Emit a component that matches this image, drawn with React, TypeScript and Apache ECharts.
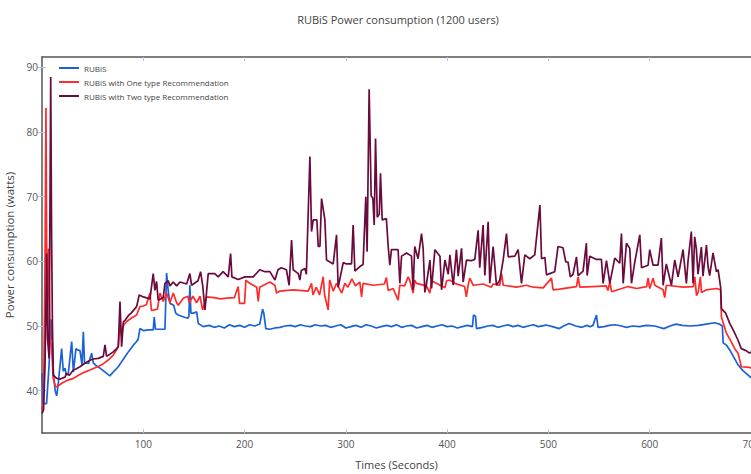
import React, { useEffect, useRef } from "react";
import * as echarts from "echarts";

const chartTitle = "RUBiS Power consumption (1200 users)";
const seriesNames = ["RUBiS", "RUBiS with One type Recommendation", "RUBiS with Two type Recommendation"];
const xTickValues = [100, 200, 300, 400, 500, 600, 700];
const yTickValues = [40, 50, 60, 70, 80, 90];

// RUBiS (blue)
const tBlue = [0, 1, 4.5, 7, 9, 10.5, 11.2, 13, 14.5, 16, 19.4, 21, 22.7, 24, 26, 29.3, 31, 33.5, 35, 37.5, 39.5, 40.8, 42, 46, 49, 50.6, 54, 57.2, 62, 67, 71, 75.3, 80, 85.2, 90, 93.4, 95, 96.7, 100, 105, 109.8, 110.8, 112, 121.4, 123, 124.5, 126.3, 130, 132, 134.5, 140, 144, 145, 146, 147, 150, 152.7, 154.3, 159.2, 165, 170, 175, 180, 185, 190, 195, 200, 205, 210, 215, 217.8, 219, 221, 225, 230, 235, 240, 245, 250, 255, 260, 265, 270, 275, 280, 285, 290, 295, 300, 305, 310, 315, 320, 325, 330, 335, 340, 345, 350, 355, 360, 365, 370, 375, 380, 385, 390, 395, 400, 405, 410, 415, 420, 425, 426, 428, 429, 435, 440, 445, 450, 455, 460, 465, 470, 475, 480, 485, 490, 497.6, 504, 510.7, 515, 520.5, 527, 533, 538, 541, 544, 547.4, 549, 555, 560, 566, 572, 577, 583, 590, 597, 605, 614, 620, 626, 632, 640, 648, 656, 664, 669, 671.7, 672.5, 676, 679, 683, 687.2, 692, 698.6, 700];
const vBlue = [42.7, 38, 38, 44, 51, 46, 42.7, 40, 39.2, 41, 46.5, 43, 43.5, 42.5, 42.7, 47.6, 42.9, 46.5, 46.3, 46.2, 44, 49.1, 44.3, 44.2, 45.8, 44.3, 43.8, 43.5, 42.9, 42.3, 43, 43.7, 44.8, 46, 47, 47.6, 48, 49.6, 49.3, 49.4, 49.4, 51.4, 49.5, 49.5, 58.2, 55.6, 53.5, 53.2, 52, 51.7, 51.4, 51.2, 51.5, 56.3, 52, 52, 52.2, 50.4, 49.9, 50.1, 49.8, 50, 49.7, 50.2, 49.9, 50.1, 49.8, 50.2, 50, 50.3, 52.6, 52, 49.6, 49.5, 49.7, 49.8, 50, 50.1, 49.9, 50.2, 50, 49.9, 50.2, 50, 50.1, 49.8, 50, 50.2, 49.7, 49.9, 50.1, 49.8, 50.2, 50, 49.7, 49.9, 50.1, 49.9, 50.2, 49.8, 50, 50.1, 49.7, 49.9, 50.1, 49.8, 50, 50.2, 49.9, 50, 49.7, 49.9, 50.1, 49.9, 51.7, 51.5, 49.6, 49.8, 50, 50.1, 49.8, 50, 50.2, 49.9, 50.1, 49.8, 50, 50.2, 49.9, 50.15, 49.9, 49.6, 50, 50.4, 50, 49.8, 50.1, 49.9, 50.1, 51.7, 49.8, 49.9, 50.1, 50.2, 50, 49.8, 50, 49.9, 50.1, 50, 49.6, 50, 50.3, 50.1, 50, 50.1, 50.3, 50.5, 50.3, 50, 47.4, 47, 46.3, 45.2, 44, 43.1, 42.2, 42];

// RUBiS with One type Recommendation (red)
const tRed = [0, 1.5, 3, 3.9, 5, 6.5, 8, 9.5, 11, 13, 14.5, 20, 25, 31, 36, 41, 47.4, 53, 59, 65, 70.4, 75.3, 77, 78.5, 80, 83.6, 88, 93.4, 96.7, 100, 103, 106.6, 108, 114, 116.4, 119.7, 123, 126.3, 129.6, 132.9, 134.5, 139.5, 144, 145.5, 149, 152.7, 156, 158.6, 162.5, 170, 176, 182.3, 190, 193.7, 195, 200, 201.3, 205, 212, 213.5, 215, 225, 230, 231.6, 235, 248, 262.8, 266.1, 267.5, 270.8, 274, 277.6, 279, 282.5, 284, 287.5, 290.8, 296, 299, 302, 306, 309.5, 313.8, 315.5, 317, 327, 338, 340, 341.8, 346.7, 351.6, 353.3, 358, 361.5, 363, 366.4, 368, 369.7, 379.6, 382.9, 384.6, 397.8, 399.5, 402.6, 407.5, 417.3, 419, 420.7, 422.4, 425.7, 435.5, 443.7, 445.4, 451.9, 453.7, 455.4, 468.5, 478.4, 485, 494.8, 503, 504.6, 511, 527.7, 529.3, 531, 544, 557, 558.7, 560.7, 562.3, 578.7, 587, 597, 598.4, 600, 603.3, 605, 613.2, 614.8, 616.4, 633, 643, 644.5, 646.2, 647.8, 650, 651.1, 656, 666, 670, 670.8, 675.7, 680, 684, 687.2, 688.8, 690.4, 698.6, 700];
const vRed = [37, 38, 60, 83.7, 50, 62, 48, 46.8, 42, 40.8, 40.6, 41.2, 41.6, 41.9, 42.4, 42.8, 43.2, 43.6, 44, 44.7, 45.5, 46.8, 50.4, 48.5, 50, 50.7, 51.2, 51.7, 53, 53.1, 53.3, 55.1, 52.4, 52.6, 55.1, 53.8, 55.1, 53.6, 55.1, 53.6, 53.2, 54.3, 54.6, 53.6, 54.6, 53.6, 54.6, 52.5, 54.5, 54.4, 54.2, 54.3, 54.4, 56.1, 53.5, 53.5, 57.1, 56.6, 56, 53.8, 56, 56.8, 56.3, 55.1, 55.4, 55.6, 55.4, 56.6, 54.8, 56, 54.8, 57.6, 54.8, 52.5, 57.1, 55.4, 56.6, 55.1, 56.6, 56, 57.3, 56.2, 56.8, 54.5, 56.6, 56.3, 56.5, 57.5, 55.5, 55.8, 54, 56.3, 56.2, 57.6, 57.1, 55.1, 57.1, 56.6, 56.2, 55.1, 57, 55.9, 57, 57.1, 56.6, 56.1, 54.5, 56.3, 57.4, 56.3, 56.5, 56, 56.5, 56.3, 58.1, 56.3, 56, 56.3, 56, 55.9, 57.4, 55.6, 55.7, 56.1, 57.6, 56, 56.1, 56.2, 55.5, 56.8, 55.3, 56.1, 55.8, 56.1, 57.4, 55.8, 57.4, 56.3, 55.6, 54.4, 56.3, 56, 56.1, 57.6, 54.7, 55.2, 57.6, 55.2, 55.6, 55.8, 55.6, 51.4, 48.9, 47.7, 46.5, 45.8, 44.8, 43.7, 43.6, 43.5];

// RUBiS with Two type Recommendation (maroon)
const tMaroon = [0, 1.5, 3, 4.6, 5.5, 7, 8.6, 9.5, 10.3, 11.2, 14.5, 18, 22.7, 24, 27, 31, 34, 37.5, 42, 47.4, 50.6, 55.6, 60.5, 62.2, 63.8, 70.4, 73.7, 75.3, 77, 78.6, 80.3, 82, 85.2, 88, 93.4, 96, 100, 106.6, 109.8, 111.5, 113.1, 114.7, 119.7, 121.4, 124.7, 126.3, 129.6, 132.9, 136.2, 142.8, 146, 147.7, 154, 156.6, 158.6, 160.9, 164.1, 170.6, 173.9, 178.8, 183.9, 186.2, 187.5, 193.7, 200.3, 208.6, 215, 220, 225, 230, 233, 236.3, 241.3, 244, 246.4, 248, 253, 254.6, 256, 259.6, 261, 264.5, 266.1, 267.8, 271.4, 272.7, 274.4, 276, 279.3, 280.9, 287.5, 290.8, 292.4, 297.4, 300.7, 305.6, 307.2, 308.9, 313.8, 317, 319.7, 321, 323, 325, 326.6, 328, 329.3, 331, 333, 334.2, 335.9, 340, 341.8, 343.4, 345, 351.6, 353.3, 355, 359.9, 364.8, 366.4, 368, 371.3, 374.7, 376.3, 378, 379.6, 383, 384.6, 387.9, 392.9, 394.5, 397.8, 401.1, 402.7, 406, 409.2, 410.9, 414.2, 415.8, 419.1, 424, 427.3, 430.6, 432.2, 435.5, 437.2, 440.5, 442.1, 445.4, 448.7, 452, 455.3, 458.6, 460.3, 466.8, 470.1, 473.4, 476.7, 481.6, 486.5, 491.6, 493.2, 496.5, 498.1, 501.3, 506.2, 509.5, 514.4, 517.1, 519.3, 521.6, 524.3, 527.7, 529.3, 534.2, 537.5, 538.2, 540.8, 547.4, 552.3, 554, 557.3, 560.6, 565.5, 570.4, 572.1, 573.8, 577, 580.3, 582, 585.3, 590.2, 591.9, 598.4, 600, 603.3, 608.2, 611.5, 613.2, 616.4, 621.4, 624.7, 628, 632.9, 636.2, 637.8, 641.1, 642.8, 644.4, 646, 647.7, 651, 652.6, 656, 657.6, 659.2, 662.5, 665.8, 667.5, 670, 670.8, 675, 679, 683, 687.2, 690.4, 695, 698.6, 700];
const vMaroon = [36.5, 37, 44, 61.2, 48, 45, 88.5, 63.6, 50, 42.4, 41.9, 41.8, 42.1, 42.6, 42.4, 43.2, 43.4, 43.7, 44.2, 44.7, 44.9, 45, 45.3, 47.1, 45.3, 46, 46.5, 46.8, 53.8, 46.8, 50.6, 50.9, 51.6, 52, 53, 54.8, 54.5, 54.2, 58.1, 55.5, 56.9, 54, 54.4, 56.6, 57, 56.2, 56.8, 56.2, 56.8, 56.5, 58.1, 56.3, 57, 58.4, 56.3, 52.5, 58.1, 58.1, 57.6, 58.4, 57.6, 61.2, 57.6, 57.2, 57.6, 57.6, 58.7, 58.4, 58.4, 57.1, 58.7, 59, 58.7, 56.3, 63.3, 58.7, 58.1, 57.1, 58.6, 58.9, 58, 76.2, 64.6, 66.4, 66.4, 62.3, 62.3, 69.7, 66.4, 60.2, 59.6, 64.1, 56, 59.8, 59.6, 59.6, 65.6, 58.5, 59.2, 59.5, 70, 61.5, 86.6, 70.1, 69.8, 65.6, 79, 66.8, 67.3, 73.6, 66.4, 66.6, 62.3, 59.4, 61.8, 61.8, 56.6, 60.8, 61.3, 60.8, 55.6, 62.3, 60.4, 64.3, 62, 55.2, 56.5, 60.2, 55.8, 61.8, 60.8, 55.6, 60.2, 58, 61, 56.3, 61.8, 57.7, 62, 56.8, 60.2, 60.1, 60.3, 64.8, 59, 65.6, 57.8, 66.1, 56.6, 62.3, 56.3, 57.1, 60.2, 64.3, 60.7, 60.8, 61.8, 56.6, 61, 60.4, 61, 68.7, 60.4, 60.6, 57.9, 58.1, 58.4, 62.3, 62.1, 59.9, 59.9, 57.6, 58, 60.7, 57.8, 58.5, 62.8, 57.8, 60.8, 60.3, 60.3, 56.6, 60.1, 56.6, 60.5, 59.7, 64.3, 56.6, 62.8, 62, 56.6, 59.9, 64.1, 59, 59.4, 61.8, 59.4, 59.4, 63.6, 56.3, 59.6, 56.3, 60.2, 57.6, 61.8, 56.6, 60, 64.6, 56.6, 63.8, 62, 58, 62.2, 57.7, 62.5, 59.2, 57.8, 61.3, 58.4, 58.7, 56, 52.7, 52, 50.4, 49.2, 47.8, 46.5, 46.2, 45.8, 46];

const colors = ["#1a62d6", "#ff2b2b", "#6b0a3c"];

const zip = (t: number[], v: number[]) => t.map((x, i) => [x, v[i]]);

export default function App() {
  const ref = useRef<HTMLDivElement>(null);
  useEffect(() => {
    if (!ref.current) return;
    const chart = echarts.init(ref.current, undefined, { renderer: "svg" });
    const font = "'Open Sans', 'Noto Sans', sans-serif";
    const tickColor = "#a9c9ef";
    const axisColor = "#555";
    chart.setOption({
      animation: false,
      backgroundColor: "#fff",
      textStyle: { fontFamily: font },
      title: {
        text: chartTitle,
        left: 393,
        top: 9,
        textAlign: "center",
        textStyle: { fontFamily: font, fontSize: 11, fontWeight: "normal", color: "#444" },
      },
      legend: {
        orient: "vertical",
        left: 59,
        top: 61,
        padding: 0,
        itemWidth: 20,
        itemHeight: 2,
        itemGap: 0,
        icon: "rect",
        data: seriesNames,
        textStyle: { fontFamily: font, fontSize: 8, color: "#444", lineHeight: 14 },
      },
      grid: { left: 42, right: 0, top: 57, bottom: 41, containLabel: false, outerBoundsMode: "none" },
      xAxis: [
        {
          type: "value",
          min: 0,
          max: 700,
          name: "Times (Seconds)",
          nameLocation: "middle",
          nameGap: 26,
          nameTextStyle: { fontFamily: font, fontSize: 11, color: "#444" },
          axisLine: { show: true, onZero: false, lineStyle: { color: axisColor, width: 1.5 } },
          axisTick: { show: true, inside: true, length: 4, customValues: xTickValues, lineStyle: { color: tickColor } },
          axisLabel: { customValues: xTickValues, fontFamily: font, fontSize: 10, color: "#555", margin: 6 },
          splitLine: { show: false },
        },
        {
          type: "value",
          position: "top",
          min: 0,
          max: 700,
          axisLine: { show: true, onZero: false, lineStyle: { color: axisColor, width: 1.5 } },
          axisTick: { show: true, inside: true, length: 4, customValues: xTickValues, lineStyle: { color: tickColor } },
          axisLabel: { show: false },
          splitLine: { show: false },
        },
      ],
      yAxis: [
        {
          type: "value",
          min: 33.46,
          max: 91.59,
          name: "Power consumption (watts)",
          nameLocation: "middle",
          nameGap: 27,
          nameTextStyle: { fontFamily: font, fontSize: 11.5, color: "#444" },
          axisLine: { show: true, onZero: false, lineStyle: { color: axisColor, width: 1.5 } },
          axisTick: { show: true, inside: true, length: 4, customValues: yTickValues, lineStyle: { color: tickColor } },
          axisLabel: { customValues: yTickValues, fontFamily: font, fontSize: 10, color: "#555", margin: 4 },
          splitLine: { show: false },
        },
        {
          type: "value",
          position: "right",
          min: 33.46,
          max: 91.59,
          axisLine: { show: false },
          axisTick: { show: true, inside: true, length: 5, customValues: yTickValues, lineStyle: { color: tickColor } },
          axisLabel: { show: false },
          splitLine: { show: false },
        },
      ],
      series: [
        { name: seriesNames[0], type: "line", data: zip(tBlue, vBlue), showSymbol: false, symbol: "none", lineStyle: { width: 1.7, color: colors[0] }, itemStyle: { color: colors[0] } },
        { name: seriesNames[1], type: "line", data: zip(tRed, vRed), showSymbol: false, symbol: "none", lineStyle: { width: 1.7, color: colors[1] }, itemStyle: { color: colors[1] } },
        { name: seriesNames[2], type: "line", data: zip(tMaroon, vMaroon), showSymbol: false, symbol: "none", lineStyle: { width: 1.7, color: colors[2] }, itemStyle: { color: colors[2] } },
      ],
    });
    return () => chart.dispose();
  }, []);
  return <div ref={ref} style={{ position: "fixed", left: 0, top: 0, width: 751, height: 474 }} />;
}
